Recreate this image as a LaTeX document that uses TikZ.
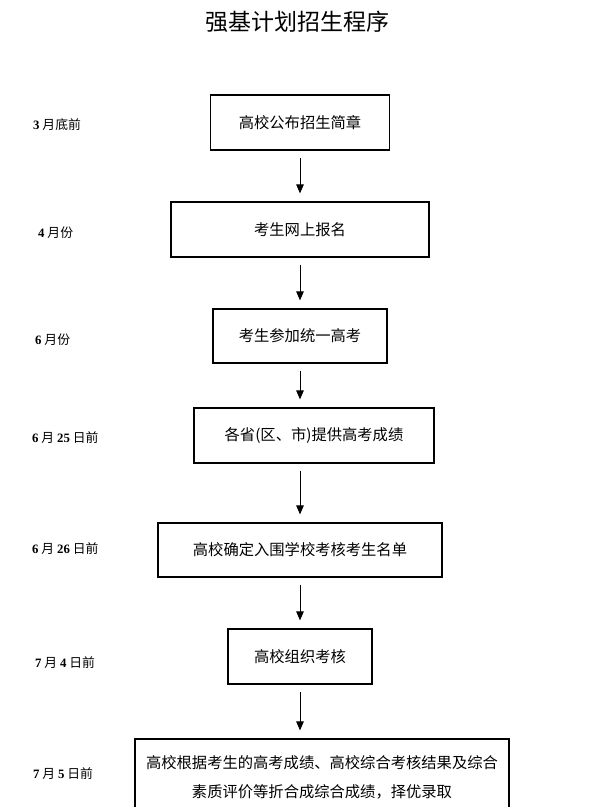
\documentclass[tikz,border=0pt]{standalone}
\usepackage{fontspec}
\setmainfont{Liberation Serif}
\newfontfamily\cjk{Noto Sans CJK SC}
\usetikzlibrary{arrows.meta}
\newcommand\dg[1]{{\rmfamily\bfseries #1}}
\begin{document}
\begin{tikzpicture}[x=1pt,y=-1pt,
  box/.style={draw, line width=1.2pt, inner sep=0pt, font=\cjk\fontsize{15.3}{29}\selectfont, align=center},
  lbl/.style={anchor=west, inner sep=0pt, font=\cjk\fontsize{12.8}{14}\selectfont},
  arr/.style={-{Triangle[length=9pt,width=7.5pt]}, line width=0.9pt, shorten <=7pt, shorten >=8pt}]
\useasboundingbox (0,0) rectangle (600,807);
\clip (0,0) rectangle (600,807);

\node[font=\cjk\fontsize{23}{26}\selectfont] (title) at (297,22) {强基计划招生程序};

\node[box, minimum width=179pt, minimum height=55pt] (b1) at (300,122.5) {高校公布招生简章};
\node[box, minimum width=258pt, minimum height=55pt] (b2) at (300,229.5) {考生网上报名};
\node[box, minimum width=174pt, minimum height=54pt] (b3) at (300,336) {考生参加统一高考};
\node[box, minimum width=240pt, minimum height=55pt] (b4) at (314,435.5) {各省(区、市)提供高考成绩};
\node[box, minimum width=284pt, minimum height=54pt] (b5) at (300,550) {高校确定入围学校考核考生名单};
\node[box, minimum width=144pt, minimum height=55pt] (b6) at (300,656.5) {高校组织考核};
\node[box, minimum width=374pt, minimum height=77pt] (b7) at (322,777.5) {高校根据考生的高考成绩、高校综合考核结果及综合\\素质评价等折合成综合成绩，择优录取};

\node[lbl] (l1) at (33,125) {\dg{3} 月底前};
\node[lbl] (l2) at (38,233) {\dg{4} 月份};
\node[lbl] (l3) at (35,340) {\dg{6} 月份};
\node[lbl] (l4) at (32,438) {\dg{6} 月 \dg{25} 日前};
\node[lbl] (l5) at (32,549) {\dg{6} 月 \dg{26} 日前};
\node[lbl] (l6) at (35,663) {\dg{7} 月 \dg{4} 日前};
\node[lbl] (l7) at (33,774) {\dg{7} 月 \dg{5} 日前};

\draw[arr] (b1.south) -- (b2.north);
\draw[arr] (b2.south) -- (b3.north);
\draw[arr] (b3.south) -- (b3.south |- b4.north);
\draw[arr] (b3.south |- b4.south) -- (b5.north);
\draw[arr] (b5.south) -- (b6.north);
\draw[arr] (b6.south) -- (b6.south |- b7.north);
\end{tikzpicture}
\end{document}
